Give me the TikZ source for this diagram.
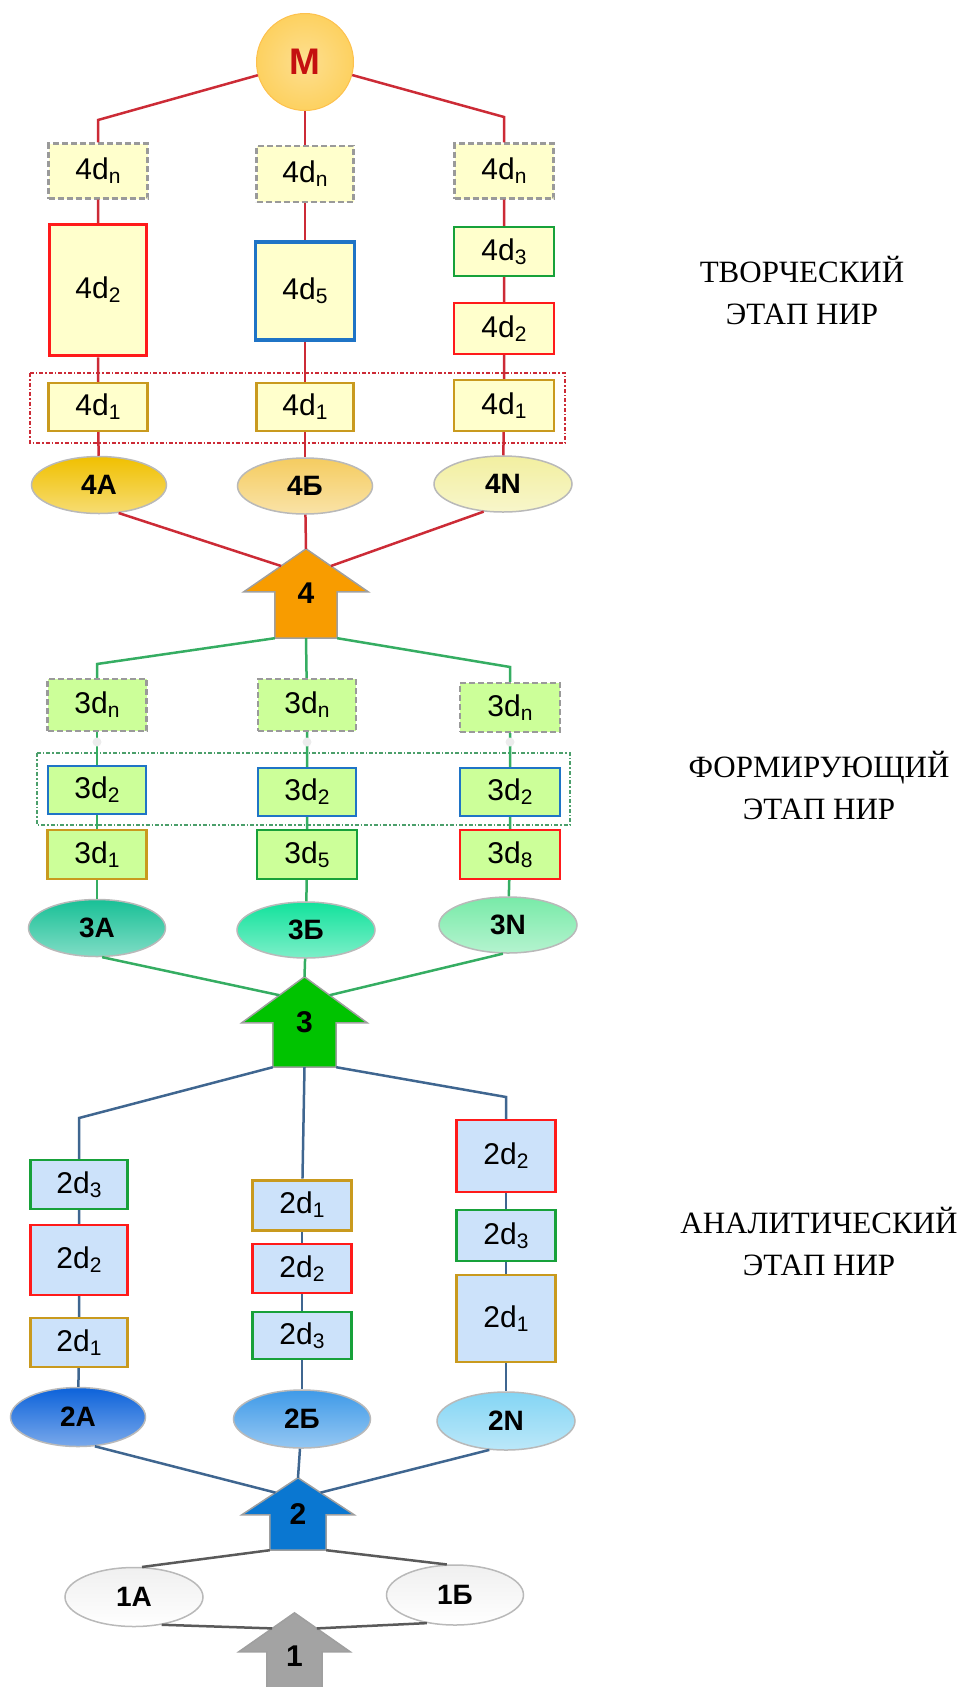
\documentclass[tikz,border=0pt]{standalone}
\usepackage{fontspec}
\setmainfont{Liberation Serif}
\newfontfamily\labfont{Liberation Sans}
\usetikzlibrary{calc,shapes.geometric,backgrounds}

\definecolor{fillY}{HTML}{FFFFCC}
\definecolor{fillG}{HTML}{CCFF99}
\definecolor{fillB}{HTML}{CCE2FA}
\definecolor{bdRed}{HTML}{FF1A1A}
\definecolor{bdBlue}{HTML}{1F74C6}
\definecolor{bdGreen}{HTML}{17A13A}
\definecolor{bdGold}{HTML}{C99A1E}
\definecolor{bdGray}{HTML}{9A9A9A}
\definecolor{lnRed}{HTML}{CC2B36}
\definecolor{lnGreen}{HTML}{35AD62}
\definecolor{lnBlue}{HTML}{3F6690}
\definecolor{lnGray}{HTML}{5A5A5A}
\definecolor{mGold}{HTML}{FDD160}
\definecolor{mRed}{HTML}{C41010}
\definecolor{o4a}{HTML}{F0C000}
\definecolor{o4b}{HTML}{F5CC60}
\definecolor{o4c}{HTML}{F2EFA0}
\definecolor{o3a}{HTML}{18C096}
\definecolor{o3b}{HTML}{12E29C}
\definecolor{o3c}{HTML}{78EAA8}
\definecolor{o2a}{HTML}{0C62DA}
\definecolor{o2b}{HTML}{3F9AE8}
\definecolor{o2c}{HTML}{84D5F4}
\definecolor{a4}{HTML}{F89C00}
\definecolor{a3}{HTML}{00C300}
\definecolor{a2}{HTML}{0A77D1}
\definecolor{a1}{HTML}{A3A3A3}

% label like 4d with a subscript
\newcommand{\dl}[2]{#1d\raisebox{-4pt}{\fontsize{21}{21}\selectfont #2}}

% up arrow: name, centre, width, height, head length, shaft inset, colour, label
\newcommand{\stagearrow}[8]{%
  \node[arrnum, minimum width=#3, minimum height=#4] (#1) at (#2) {#8};
  \begin{scope}[on background layer]
    \draw[arrline, fill=#7] (#1.north)
      -- ($(#1.north east)+(0,#5)$) -- ($(#1.north east)+(-#6,#5)$)
      -- ($(#1.south east)+(-#6,0)$) -- ($(#1.south west)+(#6,0)$)
      -- ($(#1.north west)+(#6,#5)$) -- ($(#1.north west)+(0,#5)$) -- cycle;
  \end{scope}
  \coordinate (#1-l) at ($(#1.north)!0.4!(#1.north west)+(0,0.4*#5)$);
  \coordinate (#1-r) at ($(#1.north)!0.4!(#1.north east)+(0,0.4*#5)$);
  \coordinate (#1-bl) at ($(#1.south west)+(#6,0)$);
  \coordinate (#1-br) at ($(#1.south east)+(-#6,0)$);
}

\begin{document}
\begin{tikzpicture}[
    x=1pt, y=-1pt,
    box/.style={rectangle, inner sep=0pt, line width=2.2pt, font={\labfont\fontsize{30}{30}\selectfont}},
    yel/.style={box, fill=fillY},
    grn/.style={box, fill=fillG},
    blu/.style={box, fill=fillB},
    nbox/.style={draw=bdGray, dash pattern=on 6pt off 3pt},
    oval/.style={ellipse, inner sep=0pt, draw=gray!55, line width=1.5pt,
      top color=#1, bottom color=#1!55!white,
      font={\labfont\bfseries\fontsize{28}{28}\selectfont}},
    arrnum/.style={rectangle, inner sep=0pt, font={\labfont\bfseries\fontsize{30}{30}\selectfont}},
    arrline/.style={draw=gray!75, line width=1.5pt},
    redln/.style={draw=lnRed, line width=2.5pt},
    grnln/.style={draw=lnGreen, line width=2.5pt},
    bluln/.style={draw=lnBlue, line width=2.5pt},
    gryln/.style={draw=lnGray, line width=2.5pt},
    grpframe/.style={line width=1.5pt, dash pattern=on 4pt off 2pt on 1.5pt off 2pt},
    stage/.style={align=center, font={\fontsize{31}{42}\selectfont}}
  ]
  \useasboundingbox (0,0) rectangle (966,1687);
  \clip (0,0) rectangle (966,1687);

  % creative stage
  \node[circle, inner color=mGold!70!white, outer color=mGold, draw=mGold!80!orange, line width=1pt,
        minimum size=97, inner sep=0pt,
        text=mRed, font={\labfont\bfseries\fontsize{37}{37}\selectfont}] (M) at (305,62) {M};
  \coordinate (kA) at (98,120);
  \coordinate (kC) at (504,117);

  \node[yel, nbox, minimum width=99, minimum height=55] (tnA) at (98,171) {\dl{4}{n}};
  \node[yel, draw=bdRed, line width=3.5pt, minimum width=97, minimum height=131] (t2A) at (98,290) {\dl{4}{2}};
  \node[yel, draw=bdGold, minimum width=99, minimum height=48] (t1A) at (98,407) {\dl{4}{1}};

  \node[yel, nbox, minimum width=97, minimum height=56] (tnB) at (305,174) {\dl{4}{n}};
  \node[yel, draw=bdBlue, line width=3.5pt, minimum width=99, minimum height=98] (t5B) at (305,291) {\dl{4}{5}};
  \node[yel, draw=bdGold, minimum width=97, minimum height=48] (t1B) at (305,407) {\dl{4}{1}};

  \node[yel, nbox, minimum width=99, minimum height=55] (tnC) at (504,171) {\dl{4}{n}};
  \node[yel, draw=bdGreen, minimum width=100, minimum height=49] (t3C) at (504,251.5) {\dl{4}{3}};
  \node[yel, draw=bdRed, minimum width=100, minimum height=51] (t2C) at (504,328.5) {\dl{4}{2}};
  \node[yel, draw=bdGold, minimum width=100, minimum height=51] (t1C) at (504,405.5) {\dl{4}{1}};

  \draw[grpframe, draw=lnRed] (30,373) rectangle (565,443);

  \node[oval=o4a, minimum width=135, minimum height=57] (e4A) at (99,485) {4A};
  \node[oval=o4b, minimum width=135, minimum height=56] (e4B) at (305,486) {4Б};
  \node[oval=o4c, minimum width=138, minimum height=56] (e4C) at (503,484) {4N};

  \stagearrow{up4}{306,593.5}{124}{89}{43}{31}{a4}{4}

  \draw[redln] (M) -- (kA) -- (tnA);
  \draw[redln] (M) -- (tnB);
  \draw[redln] (M) -- (kC) -- (tnC);
  \draw[redln] (tnA) -- (t2A) -- (t1A) -- (e4A);
  \draw[redln] (tnB) -- (t5B) -- (t1B) -- (e4B);
  \draw[redln] (tnC) -- (t3C) -- (t2C) -- (t1C) -- (e4C);
  \draw[redln] (e4A.-55) -- (up4-l);
  \draw[redln] (e4B) -- (up4.north);
  \draw[redln] (e4C.-125) -- (up4-r);

  % forming stage
  \coordinate (k3A) at (97,664);
  \coordinate (k3C) at (510,667);

  \node[grn, nbox, minimum width=99, minimum height=52] (snA) at (97,705) {\dl{3}{n}};
  \node[grn, nbox, minimum width=98, minimum height=52] (snB) at (307,705) {\dl{3}{n}};
  \node[grn, nbox, minimum width=100, minimum height=49] (snC) at (510,707.5) {\dl{3}{n}};

  \draw[grpframe, draw=lnGreen!70!gray] (37,753) rectangle (570,825);

  \node[grn, draw=bdBlue, minimum width=98, minimum height=48] (s2A) at (97,790) {\dl{3}{2}};
  \node[grn, draw=bdBlue, minimum width=98, minimum height=48] (s2B) at (307,792) {\dl{3}{2}};
  \node[grn, draw=bdBlue, minimum width=100, minimum height=48] (s2C) at (510,792) {\dl{3}{2}};

  \node[grn, draw=bdGold, minimum width=99, minimum height=49] (s1A) at (97,854.5) {\dl{3}{1}};
  \node[grn, draw=bdGreen, minimum width=100, minimum height=49] (s5B) at (307,854.5) {\dl{3}{5}};
  \node[grn, draw=bdRed, minimum width=100, minimum height=49] (s8C) at (510,854.5) {\dl{3}{8}};

  \node[oval=o3a, minimum width=137, minimum height=57] (e3A) at (97,928) {3A};
  \node[oval=o3b, minimum width=138, minimum height=56] (e3B) at (306,930) {3Б};
  \node[oval=o3c, minimum width=138, minimum height=56] (e3C) at (508,925) {3N};

  \stagearrow{up3}{304.5,1022}{125}{90}{46}{31}{a3}{3}

  \draw[grnln] (up4-bl) -- (k3A) -- (snA);
  \draw[grnln] (up4.south) -- (snB);
  \draw[grnln] (up4-br) -- (k3C) -- (snC);
  \draw[grnln] (snA) -- (s2A) -- (s1A) -- (e3A);
  \draw[grnln] (snB) -- (s2B) -- (s5B) -- (e3B);
  \draw[grnln] (snC) -- (s2C) -- (s8C) -- (e3C);
  \foreach \cx in {97,307,510}
    \fill[gray!15] (\cx,742) circle (4.5);
  \draw[grnln] (e3A.-80) -- (up3-l);
  \draw[grnln] (e3B) -- (up3.north);
  \draw[grnln] (e3C.-100) -- (up3-r);

  % analytic stage
  \coordinate (k2A) at (79,1118);
  \coordinate (k2C) at (506,1097);

  \node[blu, draw=bdGreen, minimum width=97, minimum height=49] (l3A) at (79,1184.5) {\dl{2}{3}};
  \node[blu, draw=bdRed, minimum width=97, minimum height=70] (l2A) at (79,1260) {\dl{2}{2}};
  \node[blu, draw=bdGold, minimum width=97, minimum height=49] (l1A) at (79,1342.5) {\dl{2}{1}};

  \node[blu, draw=bdGold, line width=3pt, minimum width=99, minimum height=50] (l1B) at (302,1205) {\dl{2}{1}};
  \node[blu, draw=bdRed, minimum width=99, minimum height=49] (l2B) at (302,1268.5) {\dl{2}{2}};
  \node[blu, draw=bdGreen, minimum width=99, minimum height=47] (l3B) at (302,1335.5) {\dl{2}{3}};

  \node[blu, draw=bdRed, minimum width=99, minimum height=72] (l2C) at (506,1156) {\dl{2}{2}};
  \node[blu, draw=bdGreen, minimum width=99, minimum height=51] (l3C) at (506,1235.5) {\dl{2}{3}};
  \node[blu, draw=bdGold, minimum width=99, minimum height=87] (l1C) at (506,1318.5) {\dl{2}{1}};

  \node[oval=o2a, minimum width=135, minimum height=59] (e2A) at (78,1417) {2A};
  \node[oval=o2b, minimum width=137, minimum height=58] (e2B) at (302,1419) {2Б};
  \node[oval=o2c, minimum width=138, minimum height=58] (e2C) at (506,1421) {2N};

  \stagearrow{up2}{298,1514}{112}{72}{37}{28}{a2}{2}

  \draw[bluln] (up3-bl) -- (k2A) -- (l3A);
  \draw[bluln] (up3.south) -- (l1B);
  \draw[bluln] (up3-br) -- (k2C) -- (l2C);
  \draw[bluln] (l3A) -- (l2A) -- (l1A) -- (e2A);
  \draw[bluln] (l1B) -- (l2B) -- (l3B) -- (e2B);
  \draw[bluln] (l2C) -- (l3C) -- (l1C) -- (e2C);
  \draw[bluln] (e2A.-60) -- (up2-l);
  \draw[bluln] (e2B) -- (up2.north);
  \draw[bluln] (e2C.-120) -- (up2-r);

  % first level
  \node[oval=white, top color=gray!12, bottom color=white, minimum width=138, minimum height=59] (e1A) at (134,1597) {1A};
  \node[oval=white, top color=gray!12, bottom color=white, minimum width=137, minimum height=60] (e1B) at (455,1595) {1Б};

  \stagearrow{up1}{294.5,1656.5}{111}{87}{39}{28}{a1}{1}

  \draw[gryln] (up2-bl) -- (e1A.75);
  \draw[gryln] (up2-br) -- (e1B.105);
  \draw[gryln] (e1A.-45) -- (up1-l);
  \draw[gryln] (e1B.-135) -- (up1-r);

  % stage names
  \node[stage] (st4) at (802,290.5) {ТВОРЧЕСКИЙ\\ЭТАП НИР};
  \node[stage] (st3) at (819,785.5) {ФОРМИРУЮЩИЙ\\ЭТАП НИР};
  \node[stage] (st2) at (819,1241.5) {АНАЛИТИЧЕСКИЙ\\ЭТАП НИР};
\end{tikzpicture}
\end{document}
